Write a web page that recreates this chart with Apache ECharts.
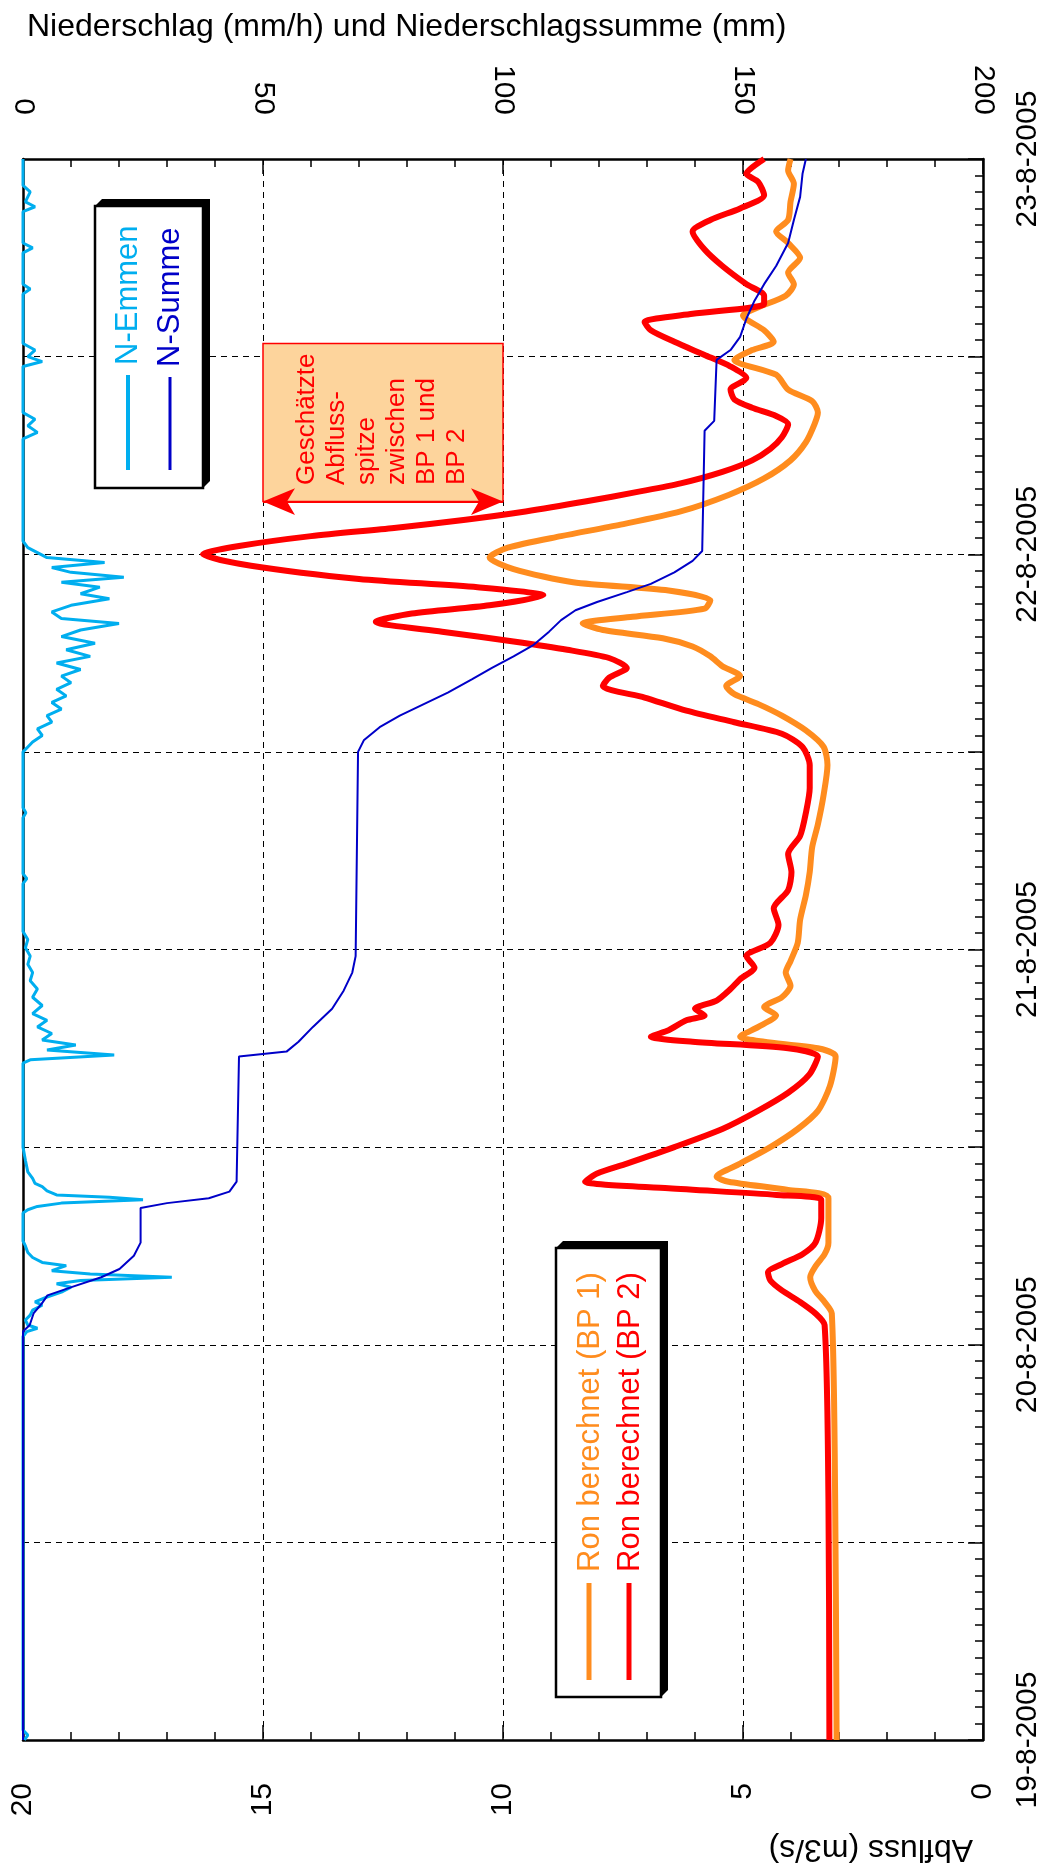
<!DOCTYPE html>
<html>
<head>
<meta charset="utf-8">
<script src="https://cdn.jsdelivr.net/npm/echarts@6/dist/echarts.min.js"></script>
<style>
  html, body { margin: 0; padding: 0; background: #fff; }
  #chart { width: 1045px; height: 1872px; }
</style>
</head>
<body>
<div id="chart"></div>
<script>
// time axis: hours since 19-8-2005 00:00
var dateLabels = ['19-8-2005', '20-8-2005', '21-8-2005', '22-8-2005', '23-8-2005'];

// Ron berechnet (BP 1), m3/s
var bp1Hours = [0, 14.6, 25.9, 26.6, 27.3, 28.1, 28.8, 29.5, 30.2, 32.9, 33.4, 33.9, 34.2, 35.0, 36.0, 37.1, 38.2, 39.7, 41.5,
  42.0, 42.4, 42.7, 43.3, 44.0, 44.5, 45.1, 45.8, 46.6, 47.3, 48.4, 49.8, 51.3, 52.7, 54.2, 55.6, 57.4, 59.2, 60.3, 61.3,
  62.2, 62.9, 63.5, 64.0, 64.6, 65.2, 65.8, 66.4, 66.9, 67.4, 67.8, 68.2, 68.7, 69.2, 69.8, 70.3, 71.1, 71.8, 72.4, 73.1,
  73.8, 74.6, 75.6, 76.6, 77.7, 78.8, 79.9, 80.6, 81.3, 82.0, 82.9, 83.8, 84.4, 84.9, 85.6, 86.5, 87.0, 87.7, 88.4, 89.1,
  90.0, 90.9, 91.6, 92.3, 93.4, 94.5, 95.3, 96];
var bp1Flow = [3.05, 3.08, 3.15, 3.3, 3.5, 3.6, 3.48, 3.3, 3.22, 3.22, 4.06, 5.3, 5.55, 5.06, 4.43, 3.86, 3.44, 3.19, 3.07,
  3.44, 4.56, 5.06, 4.68, 4.31, 4.56, 4.19, 4.01, 4.11, 4.01, 3.86, 3.81, 3.69, 3.61, 3.56, 3.44, 3.32, 3.24, 3.32, 3.69,
  4.19, 4.68, 5.18, 5.35, 5.06, 5.43, 5.68, 6.05, 6.67, 7.92, 8.34, 7.3, 5.8, 5.68, 6.55, 8.54, 9.78, 10.28, 9.9, 8.79,
  7.55, 6.3, 5.3, 4.56, 4.01, 3.69, 3.51, 3.44, 3.56, 4.06, 4.31, 5.18, 4.81, 4.36, 4.56, 5.0, 4.68, 4.11, 3.94, 4.06,
  3.81, 4.06, 4.31, 4.06, 4.01, 3.94, 4.06, 4.01];

// Ron berechnet (BP 2), m3/s
var bp2Hours = [0, 14.6, 25.2, 25.9, 26.6, 27.3, 27.9, 28.4, 28.9, 29.5, 30.2, 31.7, 32.8, 33.1, 33.5, 33.9, 34.4, 35.0, 36.0,
  37.1, 38.2, 39.3, 40.4, 41.5, 42.0, 42.4, 42.7, 43.1, 43.7, 44.0, 44.4, 44.9, 45.6, 46.2, 46.9, 47.6, 48.4, 49.5, 50.5,
  51.6, 52.7, 53.8, 54.9, 56.3, 57.8, 59.2, 60.3, 61.1, 61.8, 62.5, 63.3, 64.0, 64.5, 65.1, 65.7, 66.2, 66.7, 67.3, 67.9,
  68.4, 68.9, 69.5, 70.0, 70.5, 71.3, 72.0, 72.5, 73.1, 73.6, 74.1, 74.6, 75.2, 75.8, 76.3, 77.0, 77.7, 78.4, 79.1, 79.9,
  80.4, 80.9, 81.4, 82.0, 82.7, 83.4, 84.1, 84.9, 85.6, 86.1, 86.6, 87.2, 87.7, 88.4, 89.5, 90.5, 91.6, 92.3, 93.0, 93.8,
  94.6, 95.1, 96];
var bp2Flow = [3.2, 3.22, 3.3, 3.49, 3.81, 4.19, 4.43, 4.48, 4.19, 3.76, 3.49, 3.37, 3.37, 4.3, 6.55, 8.29, 8.04, 7.42, 6.43,
  5.43, 4.69, 4.06, 3.62, 3.44, 4.06, 6.05, 6.92, 6.55, 6.18, 5.8, 6.0, 5.55, 5.26, 5.06, 4.76, 4.93, 4.43, 4.26, 4.36,
  4.06, 3.99, 4.06, 3.81, 3.69, 3.61, 3.61, 3.76, 4.19, 5.18, 6.18, 7.05, 7.92, 7.79, 7.42, 7.79, 8.66, 9.78, 11.27, 12.65,
  11.9, 10.28, 9.16, 10.53, 13.0, 15.25, 16.25, 15.5, 14.0, 12.27, 10.78, 9.53, 8.29, 7.17, 6.3, 5.43, 4.81, 4.43, 4.19, 4.06,
  4.31, 4.81, 5.18, 5.26, 4.93, 5.26, 5.8, 6.43, 6.92, 7.05, 6.05, 4.56, 4.56, 4.93, 5.43, 5.8, 6.05, 5.68, 5.06, 4.56,
  4.68, 4.93, 4.56];

// N-Emmen, mm/h
var emmenHours = [0, 0.3, 0.6, 24.5, 24.8, 25.0, 25.2, 25.5, 25.8, 26.1, 26.4, 26.6, 26.9, 27.2, 27.5, 27.7, 27.9, 28.1, 28.3,
  28.5, 28.8, 29.0, 29.3, 29.6, 30.0, 30.3, 32.0, 32.2, 32.4, 32.6, 32.8, 32.95, 33.1, 33.35, 33.6, 33.8, 34.1, 34.5, 35.2,
  36.0, 41.1, 41.3, 41.6, 41.9, 42.2, 42.5, 42.9, 43.3, 43.7, 44.1, 44.6, 45.1, 45.6, 46.1, 46.6, 47.1, 47.6, 48.1, 48.6,
  49.1, 52.0, 52.3, 52.6, 56.0, 56.3, 56.6, 60.0, 60.3, 60.6, 61.0, 61.4, 61.8, 62.2, 62.6, 63.0, 63.4, 63.8, 64.2, 64.6,
  65.0, 65.4, 65.8, 66.2, 66.6, 67.0, 67.4, 67.8, 68.1, 68.5, 68.9, 69.3, 69.6, 70.0, 70.3, 70.6, 70.9, 71.2, 71.5, 71.8,
  72.1, 72.4, 72.8, 79.0, 79.4, 79.8, 80.2, 80.6, 83.4, 83.7, 84.0, 84.4, 84.8, 87.8, 88.1, 88.4, 90.3, 90.6, 90.9, 92.8,
  93.1, 93.4, 94.0, 94.4, 96];
var emmenRate = [0.3, 1, 0, 0, 0.8, 3, 1, 0.5, 1.5, 2, 4, 2.5, 5, 8, 10, 7, 12, 31, 14,
  6, 9, 4, 2, 1, 0.5, 0, 0, 1, 3, 8, 25, 18, 7, 5, 4, 2.5, 2, 1, 0.5,
  0, 0, 1.5, 19, 5, 11, 4, 6, 3, 5, 2, 4, 2, 3, 1.5, 2, 1, 1.5, 0.5, 1,
  0, 0, 0.8, 0, 0, 0.6, 0, 0, 1, 2, 4, 3, 6, 5, 8, 6, 9, 7, 10, 8,
  12, 7, 14, 9, 15, 8, 12, 20, 8, 6, 10, 18, 12, 16, 8, 21, 10, 6, 17, 5,
  3, 1, 0, 0, 3, 1, 2.5, 0, 0, 4, 1, 2.5, 0, 0, 1.5, 0, 0, 2, 0, 0,
  2.5, 0.5, 1.5, 0, 0];

// N-Summe, mm
var summeHours = [0, 24.8, 25.2, 25.9, 26.5, 27.0, 27.5, 28.1, 28.6, 29.4, 30.2, 32.3, 32.6, 32.9, 33.3, 33.9, 41.5, 41.8,
  42.4, 43.3, 44.4, 45.5, 46.6, 47.6, 60, 60.7, 61.5, 62.2, 62.9, 63.6, 64.4, 65.1, 65.8, 66.5, 67.3, 68.0, 68.6, 69.1,
  69.7, 70.2, 70.9, 71.6, 72.2, 79.5, 80.1, 83.8, 84.4, 85.2, 86.3, 87.4, 88.4, 89.5, 90.9, 92.3, 93.7, 95.1, 96];
var summeTotal = [0, 0, 1.4, 2.2, 3.9, 5.1, 10.1, 16.3, 20.1, 23.1, 24.5, 24.5, 30, 38.7, 43, 44.5, 45, 54.9,
  57.4, 60.4, 64.4, 66.8, 68.6, 69.3, 69.8, 71, 74.3, 78.5, 83.5, 88.5, 93.5, 97.7, 102.2, 106.4, 109.6, 112.1, 115.1, 119.6,
  125.8, 130.8, 135.7, 139.5, 141.5, 142, 144, 144.5, 147.4, 149.4, 150.7, 152.4, 154.4, 156.9, 159.4, 160.6, 161.9, 162.4, 163.1];

// estimated peak range annotation (m3/s, hours)
var peakFlowRange = [10, 15];
var peakHourRange = [75.2, 84.8];

function pairs(hours, vals) {
    return hours.map(function (h, i) { return [vals[i], h]; });
}

var font = 'Liberation Sans, Arial, Helvetica, sans-serif';
var chart = echarts.init(document.getElementById('chart'));

var tickStyle = {color: '#000', width: 1.5};
var gridDash = {color: '#000', width: 1, type: [6, 5]};

chart.setOption({
    animation: false,
    backgroundColor: '#fff',
    grid: {left: 23, right: 62, top: 159, bottom: 132, containLabel: false, outerBoundsMode: 'none'},
    xAxis: [{
        type: 'value', position: 'bottom', inverse: true, min: 0, max: 20, interval: 5,
        axisLine: {show: true, onZero: false, lineStyle: {color: '#000', width: 2.5}},
        axisTick: {show: true, inside: true, length: 15, lineStyle: tickStyle},
        minorTick: {show: true, splitNumber: 5, length: 8, lineStyle: tickStyle},
        axisLabel: {rotate: 90, margin: 43, fontSize: 30, color: '#000', fontFamily: font,
            showMinLabel: true, showMaxLabel: true},
        splitLine: {show: true, lineStyle: gridDash}
    }, {
        type: 'value', position: 'top', min: 0, max: 200, interval: 50,
        axisLine: {show: true, onZero: false, lineStyle: {color: '#000', width: 2.5}},
        axisTick: {show: true, inside: true, length: 15, lineStyle: tickStyle},
        minorTick: {show: true, splitNumber: 5, length: 8, lineStyle: tickStyle},
        axisLabel: {rotate: 90, margin: 44, fontSize: 30, color: '#000', fontFamily: font,
            showMinLabel: true, showMaxLabel: true},
        splitLine: {show: false}
    }],
    yAxis: [{
        type: 'value', position: 'right', min: 0, max: 96, interval: 12,
        axisLine: {show: true, onZero: false, lineStyle: {color: '#000', width: 2.5}},
        axisTick: {show: true, inside: true, length: 15, lineStyle: tickStyle},
        minorTick: {show: true, splitNumber: 12, length: 8, lineStyle: tickStyle},
        axisLabel: {rotate: 90, margin: 30, fontSize: 30, color: '#000', fontFamily: font,
            showMinLabel: true, showMaxLabel: true,
            formatter: function (v) { return v % 24 === 0 ? dateLabels[v / 24] : ''; }},
        splitLine: {show: true, lineStyle: gridDash}
    }, {
        type: 'value', position: 'left', min: 0, max: 96,
        axisLine: {show: true, onZero: false, lineStyle: {color: '#000', width: 2.5}},
        axisTick: {show: false}, axisLabel: {show: false}, splitLine: {show: false}
    }],
    series: [{
        name: 'Ron berechnet (BP 1)', type: 'line', xAxisIndex: 0, yAxisIndex: 0,
        data: pairs(bp1Hours, bp1Flow), symbol: 'none', smooth: 0.25, z: 3,
        lineStyle: {color: '#FF8C1E', width: 6, join: 'round'}
    }, {
        name: 'Ron berechnet (BP 2)', type: 'line', xAxisIndex: 0, yAxisIndex: 0,
        data: pairs(bp2Hours, bp2Flow), symbol: 'none', smooth: 0.25, z: 4,
        lineStyle: {color: '#FF0000', width: 6, join: 'round'},
        markArea: {
            silent: true,
            itemStyle: {color: '#FDD49C', borderColor: '#FF0000', borderWidth: 1.5},
            label: {show: false},
            data: [[{coord: [peakFlowRange[1], peakHourRange[1]]}, {coord: [peakFlowRange[0], peakHourRange[0]]}]]
        },
        markLine: {
            silent: true,
            symbol: ['arrow', 'arrow'],
            symbolSize: [20, 32],
            label: {show: false},
            lineStyle: {color: '#FF0000', width: 2, type: 'solid'},
            data: [[{coord: [peakFlowRange[0], peakHourRange[0]]}, {coord: [peakFlowRange[1], peakHourRange[0]]}]]
        }
    }, {
        name: 'N-Emmen', type: 'line', xAxisIndex: 1, yAxisIndex: 0,
        data: pairs(emmenHours, emmenRate), symbol: 'none', z: 5,
        lineStyle: {color: '#00AEEF', width: 3}
    }, {
        name: 'N-Summe', type: 'line', xAxisIndex: 1, yAxisIndex: 0,
        data: pairs(summeHours, summeTotal), symbol: 'none', z: 6,
        lineStyle: {color: '#0000C8', width: 2}
    }],
    graphic: [
        {type: 'text', x: 27, y: 27, z: 50,
            style: {text: 'Niederschlag (mm/h) und Niederschlagssumme (mm)', fill: '#000',
                font: '32px ' + font, textVerticalAlign: 'middle'}},
        {type: 'text', x: 973, y: 1849, rotation: Math.PI, z: 50,
            style: {text: 'Abfluss (m3/s)', fill: '#000', font: '32px ' + font,
                textAlign: 'left', textVerticalAlign: 'middle'}},
        // legend N
        {type: 'polygon', z: 50, shape: {points: [[95, 206], [102, 199], [210, 199], [210, 481], [203, 488]]},
            style: {fill: '#000'}},
        {type: 'rect', z: 51, shape: {x: 95, y: 206, width: 108, height: 282},
            style: {fill: '#fff', stroke: '#000', lineWidth: 2.5}},
        {type: 'line', z: 52, shape: {x1: 128, y1: 470, x2: 128, y2: 375}, style: {stroke: '#00AEEF', lineWidth: 4}},
        {type: 'line', z: 52, shape: {x1: 170, y1: 470, x2: 170, y2: 377}, style: {stroke: '#0000C8', lineWidth: 3}},
        {type: 'text', z: 52, x: 128, y: 365, rotation: Math.PI / 2,
            style: {text: 'N-Emmen', fill: '#00AEEF', font: '31px ' + font, textAlign: 'left', textVerticalAlign: 'middle'}},
        {type: 'text', z: 52, x: 170, y: 367, rotation: Math.PI / 2,
            style: {text: 'N-Summe', fill: '#0000C8', font: '31px ' + font, textAlign: 'left', textVerticalAlign: 'middle'}},
        // legend Ron
        {type: 'polygon', z: 50, shape: {points: [[556, 1248], [563, 1241], [668, 1241], [668, 1690], [661, 1697]]},
            style: {fill: '#000'}},
        {type: 'rect', z: 51, shape: {x: 556, y: 1248, width: 105, height: 449},
            style: {fill: '#fff', stroke: '#000', lineWidth: 2.5}},
        {type: 'line', z: 52, shape: {x1: 589, y1: 1680, x2: 589, y2: 1583}, style: {stroke: '#FF8C1E', lineWidth: 5}},
        {type: 'line', z: 52, shape: {x1: 629, y1: 1680, x2: 629, y2: 1583}, style: {stroke: '#FF0000', lineWidth: 5}},
        {type: 'text', z: 52, x: 590, y: 1572, rotation: Math.PI / 2,
            style: {text: 'Ron berechnet (BP 1)', fill: '#FF8C1E', font: '31px ' + font, textAlign: 'left', textVerticalAlign: 'middle'}},
        {type: 'text', z: 52, x: 630, y: 1572, rotation: Math.PI / 2,
            style: {text: 'Ron berechnet (BP 2)', fill: '#FF0000', font: '31px ' + font, textAlign: 'left', textVerticalAlign: 'middle'}},
        // annotation text
        {type: 'text', z: 52, x: 292, y: 485, rotation: Math.PI / 2,
            style: {text: 'Geschätzte\nAbfluss-\nspitze\nzwischen\nBP 1 und\nBP 2', fill: '#FF0000',
                font: '26px ' + font, lineHeight: 30, textAlign: 'left', textVerticalAlign: 'top'}}
    ]
});
</script>
</body>
</html>
